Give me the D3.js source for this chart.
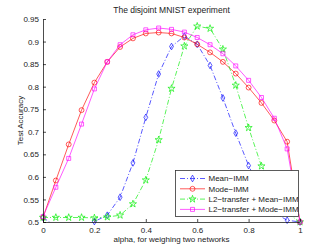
<!DOCTYPE html>
<html>
<head>
<meta charset="utf-8">
<script src="https://cdn.jsdelivr.net/npm/d3@7"></script>
<style>
  body { margin: 0; background: #fff; }
  svg { font-family: "Liberation Sans", Arial, sans-serif; }
</style>
</head>
<body>
<svg id="chart" width="332" height="250"></svg>
<script>
// alpha values, step 0.05
const alphas = [0, 0.05, 0.1, 0.15, 0.2, 0.25, 0.3, 0.35, 0.4, 0.45, 0.5,
  0.55, 0.6, 0.65, 0.7, 0.75, 0.8, 0.85, 0.9, 0.95, 1];

const meanImm = [0.51, 0.49, 0.48, 0.49, 0.501, 0.515, 0.555, 0.631, 0.732, 0.828, 0.889,
  0.912, 0.894, 0.847, 0.775, 0.697, 0.625, 0.565, 0.52, 0.504, 0.5];
const modeImm = [0.51, 0.592, 0.672, 0.748, 0.809, 0.855, 0.888, 0.907, 0.918, 0.920, 0.918,
  0.909, 0.894, 0.876, 0.855, 0.829, 0.798, 0.764, 0.725, 0.678, 0.5];
const l2Mean = [0.51, 0.51, 0.51, 0.51, 0.509, 0.511, 0.515, 0.54, 0.593, 0.682, 0.796,
  0.890, 0.934, 0.929, 0.883, 0.803, 0.709, 0.624, 0.56, 0.52, 0.5];
const l2Mode = [0.512, 0.577, 0.641, 0.717, 0.795, 0.855, 0.893, 0.915, 0.926, 0.930, 0.927,
  0.921, 0.909, 0.893, 0.873, 0.846, 0.814, 0.776, 0.730, 0.662, 0.5];

const seriesNames = ["Mean\u2212IMM", "Mode\u2212IMM", "L2\u2212transfer + Mean\u2212IMM", "L2\u2212transfer + Mode\u2212IMM"];
const xTicks = [0, 0.2, 0.4, 0.6, 0.8, 1];
const yTicks = [0.5, 0.55, 0.6, 0.65, 0.7, 0.75, 0.8, 0.85, 0.9, 0.95];

const series = [
  { name: seriesNames[0], values: meanImm, color: "#0000ff", dash: "5,2,1,2", marker: "diamond" },
  { name: seriesNames[1], values: modeImm, color: "#ff0000", dash: null, marker: "circle" },
  { name: seriesNames[2], values: l2Mean, color: "#00ee00", dash: "5,2,1,2", marker: "star" },
  { name: seriesNames[3], values: l2Mode, color: "#ff00ff", dash: null, marker: "square" }
];

const svg = d3.select("#chart");
const plotL = 43, plotR = 300, plotT = 19, plotB = 222;
const sw = 0.65;

const x = d3.scaleLinear().domain([0, 1]).range([plotL, plotR]);
const y = d3.scaleLinear().domain([0.5, 0.95]).range([plotB, plotT]);

svg.append("defs").append("clipPath").attr("id", "clip")
  .append("rect").attr("x", plotL).attr("y", plotT).attr("width", plotR - plotL).attr("height", plotB - plotT);

const symbols = {
  diamond: d3.symbol().type(d3.symbolDiamond).size(13),
  circle: d3.symbol().type(d3.symbolCircle).size(19),
  star: d3.symbol().type(d3.symbolStar).size(16),
  square: d3.symbol().type(d3.symbolSquare).size(16)
};

const line = d3.line().x((d, i) => x(alphas[i])).y(d => y(d));

const plot = svg.append("g");

series.forEach(s => {
  plot.append("path")
    .datum(s.values)
    .attr("clip-path", "url(#clip)")
    .attr("fill", "none")
    .attr("stroke", s.color)
    .attr("stroke-width", sw)
    .attr("stroke-dasharray", s.dash)
    .attr("d", line);

  plot.selectAll(null)
    .data(s.values.map((v, i) => ({ a: alphas[i], v })).filter(d => d.v >= 0.497))
    .enter()
    .append("path")
    .attr("transform", d => `translate(${x(d.a)},${y(d.v)})`)
    .attr("d", symbols[s.marker])
    .attr("fill", "none")
    .attr("stroke", s.color)
    .attr("stroke-width", sw);
});

// axes (MATLAB style, ticks inward)
const xAxis = svg.append("g")
  .attr("transform", `translate(0,${plotB})`)
  .call(d3.axisBottom(x).tickValues(xTicks).tickSizeInner(-3).tickSizeOuter(0).tickPadding(4).tickFormat(d3.format("~g")));
const yAxis = svg.append("g")
  .attr("transform", `translate(${plotL},0)`)
  .call(d3.axisLeft(y).tickValues(yTicks).tickSizeInner(-3).tickSizeOuter(0).tickPadding(4).tickFormat(d3.format("~g")));

[xAxis, yAxis].forEach(g => {
  g.select(".domain").attr("stroke", "#000").attr("stroke-width", 0.7);
  g.selectAll(".tick line").attr("stroke", "#000").attr("stroke-width", 0.7);
  g.selectAll(".tick text").attr("font-size", 8).attr("fill", "#222")
    .attr("font-family", "Liberation Sans, Arial, sans-serif");
});
xAxis.selectAll(".tick text").attr("dy", "0.9em");

svg.append("text")
  .attr("x", (plotL + plotR) / 2).attr("y", 13)
  .attr("text-anchor", "middle").attr("font-size", 8.5).attr("fill", "#222")
  .text("The disjoint MNIST experiment");

svg.append("text")
  .attr("x", (plotL + plotR) / 2).attr("y", 242)
  .attr("text-anchor", "middle").attr("font-size", 8).attr("fill", "#222")
  .text("alpha, for weighing two networks");

svg.append("text")
  .attr("transform", `translate(23,${(plotT + plotB) / 2}) rotate(-90)`)
  .attr("text-anchor", "middle").attr("font-size", 8).attr("fill", "#222")
  .text("Test Accuracy");

// legend
const lg = svg.append("g");
lg.append("rect")
  .attr("x", 175.5).attr("y", 170.5).attr("width", 123).attr("height", 46)
  .attr("fill", "#fff").attr("stroke", "#333").attr("stroke-width", 0.8);

series.forEach((s, i) => {
  const ly = 178.5 + i * 10.3;
  lg.append("line")
    .attr("x1", 180).attr("x2", 205).attr("y1", ly).attr("y2", ly)
    .attr("stroke", s.color).attr("stroke-width", sw)
    .attr("stroke-dasharray", s.dash);
  lg.append("path")
    .attr("transform", `translate(192.5,${ly})`)
    .attr("d", symbols[s.marker])
    .attr("fill", "none").attr("stroke", s.color).attr("stroke-width", sw);
  lg.append("text")
    .attr("x", 208.5).attr("y", ly).attr("dy", "0.35em")
    .attr("font-size", 8).attr("fill", "#222")
    .text(s.name);
});
</script>
</body>
</html>
